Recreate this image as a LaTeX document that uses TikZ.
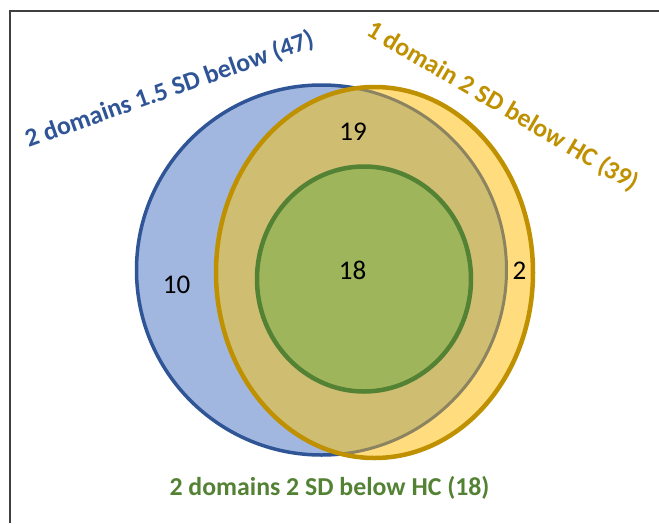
\documentclass[tikz,border=0pt]{standalone}
\usepackage{fontspec}
\setmainfont{Carlito}
\definecolor{bluestroke}{HTML}{2F5597}
\definecolor{bluefill}{HTML}{A1B7E0}
\definecolor{orangestroke}{HTML}{BF9000}
\definecolor{yellowfill}{HTML}{FFDC7E}
\definecolor{overlapfill}{HTML}{CFBD72}
\definecolor{grayline}{HTML}{8C8360}
\definecolor{greenfill}{HTML}{9FB55C}
\definecolor{greenstroke}{HTML}{548235}
\definecolor{framec}{HTML}{404040}
\begin{document}
\begin{tikzpicture}[x=1pt,y=-1pt,
  lbl/.style={font=\fontsize{25.8}{30}\selectfont\bfseries, anchor=base, inner sep=0pt},
  num/.style={font=\fontsize{27}{30}\selectfont, anchor=base, inner sep=0pt, text=black}]
\useasboundingbox (0,0) rectangle (659,523);
\fill[white] (0,0) rectangle (659,523);
\coordinate (fb) at (10,523);
\coordinate (fc) at (10,11);
\coordinate (fr) at (659,11);
\draw[framec, line width=1.2pt] (fb) -- (fc) -- (fr);
% blue set
\fill[bluefill] (321.5,270) circle [radius=185pt];
\draw[bluestroke, line width=3.5pt] (321.5,270) circle [radius=185pt];
% orange set
\fill[yellowfill] (374.5,272.5) ellipse [x radius=158.5pt, y radius=185.5pt];
\begin{scope}
  \clip (321.5,270) circle [radius=185pt];
  \fill[overlapfill] (374.5,272.5) ellipse [x radius=158.5pt, y radius=185.5pt];
\end{scope}
\begin{scope}
  \clip (374.5,272.5) ellipse [x radius=158.5pt, y radius=185.5pt];
  \draw[grayline, line width=3pt] (321.5,270) circle [radius=185pt];
\end{scope}
\draw[orangestroke, line width=4.5pt] (374.5,272.5) ellipse [x radius=158.5pt, y radius=185.5pt];
% green set
\draw[greenstroke, fill=greenfill, line width=4.5pt] (364,279) ellipse [x radius=107pt, y radius=112.5pt];
% labels
\node[lbl, text=bluestroke, rotate=19.5] (lblue) at (172,97) {2 domains 1.5 SD below (47)};
\node[lbl, text=orangestroke, rotate=-30.5] (lorange) at (499,113) {1 domain 2 SD below HC (39)};
\node[lbl, text=greenstroke] (lgreen) at (329.5,495) {2 domains 2 SD below HC (18)};
% numbers
\node[num] (n19) at (353,140) {19};
\node[num] (n18) at (352.5,279) {18};
\node[num] (n10) at (176.5,293) {10};
\node[num] (n2) at (519.5,279) {2};
\end{tikzpicture}
\end{document}
